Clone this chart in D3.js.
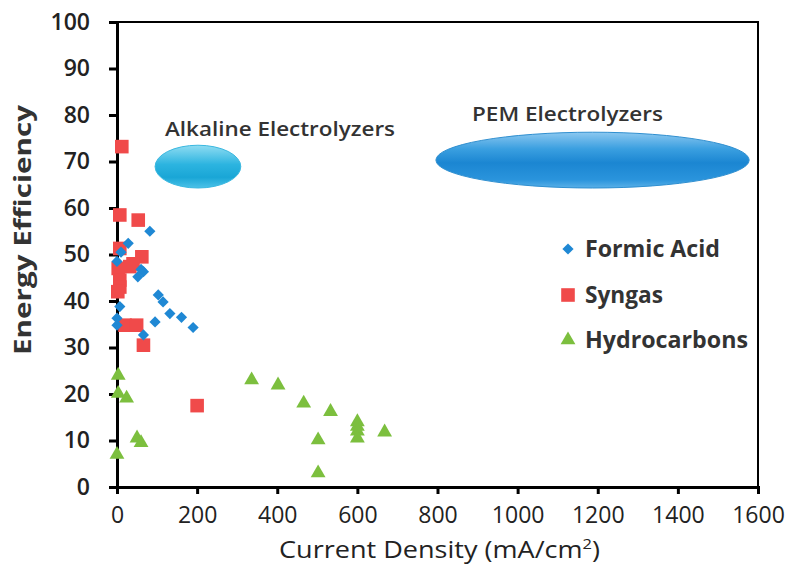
<!DOCTYPE html>
<html><head><meta charset="utf-8">
<script src="https://cdn.jsdelivr.net/npm/d3@7"></script>
<style>
body{margin:0;background:#fff;}
text{font-family:"Open Sans", Lato, sans-serif;}
</style></head>
<body><svg id="chart" width="800" height="580"></svg>
<script>
// ---- data ----
const xTicks = [0,200,400,600,800,1000,1200,1400,1600];
const yTicks = [0,10,20,30,40,50,60,70,80,90,100];
const seriesNames = ["Formic Acid","Syngas","Hydrocarbons"];
const formicX = [82, 28, 0, 66, 52, 60, 103, 115, 132, 161, 190, 95, 7, 0, 0, 66, 10];
const formicY = [55, 52.4, 48.5, 46.3, 45.2, 46.8, 41.3, 39.8, 37.3, 36.5, 34.3, 35.5, 38.8, 36.3, 34.8, 32.7, 50.5];
const syngasX = [12, 7, 53, 7, 62, 3, 32, 7, 7, 2, 20, 49, 66, 200, 40];
const syngasY = [73.2, 58.5, 57.4, 51.3, 49.5, 47, 47.4, 44.5, 43, 42, 34.8, 34.8, 30.5, 17.5, 48];
const hydroX = [3, 3, 24, 50, 60, 0, 336, 402, 466, 533, 502, 502, 600, 600, 600, 600, 668];
const hydroY = [24, 20.1, 19.1, 10.5, 9.5, 7, 23, 21.9, 18, 16.2, 10.1, 3, 14, 13, 12, 10.5, 11.8];
const regionNames = ["Alkaline Electrolyzers","PEM Electrolyzers"];
const regionCx = [202, 1187];
const regionCy = [68.9, 70.3];
const regionRx = [107, 391];
const regionRy = [4.6, 6.0];

// ---- chart ----
const svg = d3.select("#chart");
const L=117, R=758, T=22, B=487;
const x = d3.scaleLinear().domain([0,1600]).range([L,R]);
const y = d3.scaleLinear().domain([0,100]).range([B,T]);

const defs = svg.append("defs");
const g1 = defs.append("linearGradient").attr("id","gAlk").attr("x1",0).attr("y1",0).attr("x2",0).attr("y2",1);
[["0%","#8fdcf2"],["45%","#2cb4e0"],["75%","#19a6d6"],["100%","#4cc2e8"]].forEach(s=>g1.append("stop").attr("offset",s[0]).attr("stop-color",s[1]));
const g2 = defs.append("linearGradient").attr("id","gPem").attr("x1",0).attr("y1",0).attr("x2",0).attr("y2",1);
[["0%","#8cc8f0"],["30%","#3a9fe0"],["55%","#1b86d2"],["85%","#2a94dc"],["100%","#5ab0e8"]].forEach(s=>g2.append("stop").attr("offset",s[0]).attr("stop-color",s[1]));
const grads = ["url(#gAlk)","url(#gPem)"];

// plot border
svg.append("rect").attr("x",L).attr("y",T).attr("width",R-L).attr("height",B-T)
  .attr("fill","none").attr("stroke","#000").attr("stroke-width",2);

// regions
regionNames.forEach((n,i)=>{
  const cx=x(regionCx[i]), cy=y(regionCy[i]);
  const rx=x(regionCx[i]+regionRx[i])-x(regionCx[i]);
  const ry=y(regionCy[i]-regionRy[i])-y(regionCy[i]);
  svg.append("ellipse").attr("cx",cx).attr("cy",cy).attr("rx",rx).attr("ry",ry)
    .attr("fill",grads[i]).attr("stroke",i?"#2f8fd0":"#3ab8e0").attr("stroke-width",1);
});
svg.append("text").attr("x",165).attr("y",136).attr("font-size",19.5).attr("font-weight",600).attr("fill","#333")
  .attr("textLength",230).attr("lengthAdjust","spacingAndGlyphs").text(regionNames[0]);
svg.append("text").attr("x",472).attr("y",121).attr("font-size",19.5).attr("font-weight",600).attr("fill","#333")
  .attr("textLength",191).attr("lengthAdjust","spacingAndGlyphs").text(regionNames[1]);

// axes
const xAx = svg.append("g").attr("transform",`translate(0,${B})`)
  .call(d3.axisBottom(x).tickValues(xTicks).tickSize(7).tickPadding(8).tickFormat(d3.format("d")));
const yAx = svg.append("g").attr("transform",`translate(${L},0)`)
  .call(d3.axisLeft(y).tickValues(yTicks).tickSize(8).tickPadding(19).tickFormat(d3.format("d")));
[xAx,yAx].forEach(a=>{
  a.select(".domain").attr("stroke","#000").attr("stroke-width",3);
  a.selectAll(".tick line").attr("stroke","#000").attr("stroke-width",3);
  a.selectAll("text").attr("font-family","Open Sans").attr("font-size",23).attr("font-weight",600).attr("fill","#222");
});
xAx.selectAll("text").attr("dy","0.9em").attr("font-weight",500);

svg.append("text").attr("x",279).attr("y",558).attr("font-size",23).attr("font-weight",500).attr("fill","#222")
  .attr("textLength",321).attr("lengthAdjust","spacingAndGlyphs")
  .html('Current Density (mA/cm<tspan dy="-9" font-size="14">2</tspan><tspan dy="9">)</tspan>');
svg.append("text").attr("transform","translate(31,230) rotate(-90)").attr("text-anchor","middle").attr("font-size",23).attr("font-weight",700).attr("fill","#333")
  .attr("textLength",250).attr("lengthAdjust","spacingAndGlyphs").text("Energy Efficiency");

// marks
const colors = ["#1f88d4","#f04a4a","#7cbf3e"];
const diamond = d3.symbol().type(d3.symbolDiamond2).size(80);
const square = d3.symbol().type(d3.symbolSquare).size(185);
const tri = d3.symbol().type(d3.symbolTriangle).size(95);
const syms=[diamond,square,tri];
const series = [[formicX,formicY],[syngasX,syngasY],[hydroX,hydroY]];
[1,0,2].forEach(si=>{
  const [xs,ys]=series[si];
  svg.append("g").selectAll("path").data(xs.map((v,i)=>[v,ys[i]])).join("path")
    .attr("d",syms[si]).attr("fill",colors[si])
    .attr("transform",d=>`translate(${x(d[0])},${y(d[1])})`);
});

// legend
const legY=[249,295,340];
const legW=[135,78,163];
seriesNames.forEach((n,i)=>{
  svg.append("path").attr("d",syms[i]).attr("fill",colors[i]).attr("transform",`translate(568,${legY[i]})`);
  svg.append("text").attr("x",585).attr("y",legY[i]+8).attr("font-size",23).attr("font-weight",700).attr("fill","#333")
    .attr("textLength",legW[i]).attr("lengthAdjust","spacingAndGlyphs").text(n);
});
</script></body></html>
